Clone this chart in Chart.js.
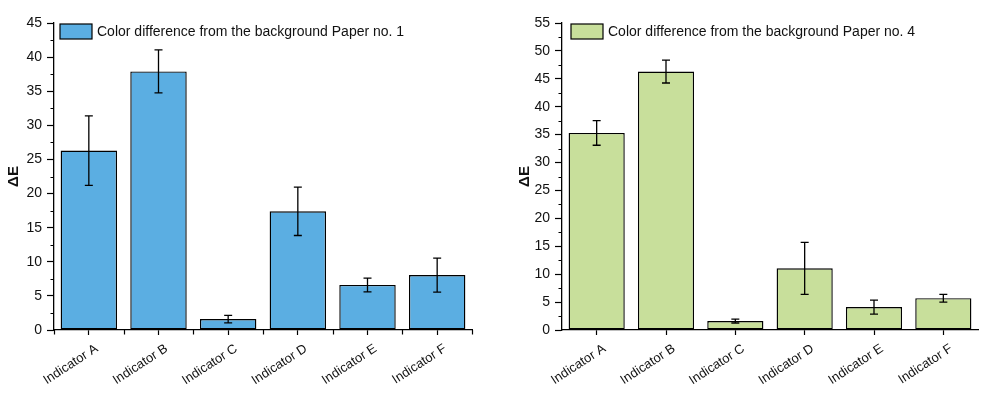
<!DOCTYPE html>
<html>
<head>
<meta charset="utf-8">
<script src="https://cdn.jsdelivr.net/npm/chart.js@4"></script>
<style>
  html, body { margin: 0; padding: 0; background: #fff; }
  #wrap { position: relative; width: 997px; height: 394px; }
  .panel { position: absolute; top: 0; height: 394px; }
  #panel-left { left: 0; width: 495px; }
  #panel-right { left: 495px; width: 502px; }
</style>
</head>
<body>
<div id="wrap">
  <div class="panel" id="panel-left"><canvas id="chart-paper1"></canvas></div>
  <div class="panel" id="panel-right"><canvas id="chart-paper4"></canvas></div>
</div>
<script>
const categories = ["Indicator A", "Indicator B", "Indicator C", "Indicator D", "Indicator E", "Indicator F"];

const paper1Values = [26.3, 37.9, 1.6, 17.4, 6.6, 8.05];
const paper1Errors = [5.1, 3.15, 0.55, 3.55, 1.0, 2.5];
const paper1YTicks = [0, 5, 10, 15, 20, 25, 30, 35, 40, 45];

const paper4Values = [35.3, 46.3, 1.6, 11.05, 4.1, 5.7];
const paper4Errors = [2.2, 2.05, 0.35, 4.65, 1.25, 0.7];
const paper4YTicks = [0, 5, 10, 15, 20, 25, 30, 35, 40, 45, 50, 55];

Chart.defaults.font.family = '"Liberation Sans", Arial, sans-serif';
Chart.defaults.font.size = 14;
Chart.defaults.color = "#111";

// error bars drawn from dataset.errors through the y scale
const errorBarsPlugin = {
  id: "errorBars",
  afterDatasetsDraw(chart, args, opts) {
    const { ctx } = chart;
    const y = chart.scales.y;
    chart.data.datasets.forEach((dataset, di) => {
      if (!dataset.errors) return;
      const meta = chart.getDatasetMeta(di);
      const half = opts.capWidth / 2;
      ctx.save();
      ctx.strokeStyle = "#000";
      ctx.lineWidth = 1.3;
      ctx.beginPath();
      meta.data.forEach((bar, i) => {
        const top = y.getPixelForValue(dataset.data[i] + dataset.errors[i]);
        const bottom = y.getPixelForValue(dataset.data[i] - dataset.errors[i]);
        ctx.moveTo(bar.x, top); ctx.lineTo(bar.x, bottom);
        ctx.moveTo(bar.x - half, top); ctx.lineTo(bar.x + half, top);
        ctx.moveTo(bar.x - half, bottom); ctx.lineTo(bar.x + half, bottom);
      });
      ctx.stroke();
      ctx.restore();
    });
  },
};

// short ticks between the labelled ones
const minorTicksPlugin = {
  id: "minorTicks",
  afterDraw(chart, args, opts) {
    const { ctx } = chart;
    const { x, y } = chart.scales;
    ctx.save();
    ctx.strokeStyle = "#000";
    ctx.lineWidth = 1.2;
    ctx.beginPath();
    y.ticks.forEach((tick) => {
      const v = tick.value + opts.yStep / 2;
      if (v > y.max) return;
      const py = Math.round(y.getPixelForValue(v)) + 0.5;
      ctx.moveTo(x.left, py);
      ctx.lineTo(x.left - opts.length, py);
    });
    if (opts.xBoundaries) {
      for (let i = 0; i <= categories.length; i++) {
        const px = Math.round(x.getPixelForValue(i - 0.5)) + 0.5;
        ctx.moveTo(px, y.bottom);
        ctx.lineTo(px, y.bottom + opts.length + 1);
      }
    }
    ctx.stroke();
    ctx.restore();
  },
};

// legend inside the plot, top left, Origin style
const insideLegendPlugin = {
  id: "insideLegend",
  afterDraw(chart, args, opts) {
    const { ctx, chartArea } = chart;
    const dataset = chart.data.datasets[0];
    const bx = chartArea.left + opts.offsetX;
    const by = chartArea.top + opts.offsetY;
    ctx.save();
    ctx.fillStyle = dataset.backgroundColor;
    ctx.fillRect(bx, by, opts.boxWidth, opts.boxHeight);
    ctx.strokeStyle = "#000";
    ctx.lineWidth = 1.2;
    ctx.strokeRect(bx, by, opts.boxWidth, opts.boxHeight);
    ctx.fillStyle = "#111";
    ctx.font = `14px ${Chart.defaults.font.family}`;
    ctx.textBaseline = "middle";
    ctx.textAlign = "left";
    ctx.fillText(dataset.label, bx + opts.boxWidth + 5, by + opts.boxHeight / 2 + 0.5);
    ctx.restore();
  },
};

function buildChart(canvasId, { label, values, errors, yTicks, color, layout, axisWidth, titlePad, legendOffsetX, xBoundaries }) {
  const canvas = document.getElementById(canvasId);
  return new Chart(canvas, {
    type: "bar",
    data: {
      labels: categories,
      datasets: [{
        label,
        data: values,
        errors,
        backgroundColor: color,
        borderColor: "#000",
        borderWidth: 1.4,
        borderSkipped: false,
        barPercentage: 0.81,
        categoryPercentage: 1,
      }],
    },
    options: {
      responsive: true,
      maintainAspectRatio: false,
      animation: false,
      layout: { padding: layout },
      scales: {
        x: {
          offset: true,
          border: { display: true, color: "#000", width: 1.3 },
          grid: { display: true, drawOnChartArea: false, offset: false, color: "#000", tickLength: 5, tickWidth: 1.2 },
          ticks: { autoSkip: false, minRotation: 33, maxRotation: 33, padding: 6, labelOffset: 8, color: "#111", font: { size: 13 } },
          afterFit: (scale) => { scale.height = 64; },
        },
        y: {
          min: yTicks[0],
          max: yTicks[yTicks.length - 1],
          border: { display: true, color: "#000", width: 1.3 },
          grid: { display: true, drawOnChartArea: false, color: "#000", tickLength: 7, tickWidth: 1.2 },
          ticks: { stepSize: yTicks[1] - yTicks[0], padding: 5, color: "#111" },
          title: { display: true, text: "ΔE", font: { size: 15, weight: "bold" }, color: "#111", padding: { top: titlePad, bottom: 0 } },
          afterFit: (scale) => { scale.width = axisWidth; },
        },
      },
      plugins: {
        legend: { display: false },
        tooltip: { enabled: false },
        errorBars: { capWidth: 8 },
        minorTicks: { yStep: yTicks[1] - yTicks[0], length: 3.5, xBoundaries },
        insideLegend: { offsetX: legendOffsetX, offsetY: 1, boxWidth: 32, boxHeight: 15 },
      },
    },
    plugins: [errorBarsPlugin, minorTicksPlugin, insideLegendPlugin],
  });
}

buildChart("chart-paper1", {
  label: "Color difference from the background Paper no. 1",
  values: paper1Values,
  errors: paper1Errors,
  yTicks: paper1YTicks,
  color: "#5BAEE2",
  layout: { left: 0, top: 23, right: 23, bottom: 0 },
  axisWidth: 54,
  titlePad: 5,
  legendOffsetX: 6,
  xBoundaries: true,
});

buildChart("chart-paper4", {
  label: "Color difference from the background Paper no. 4",
  values: paper4Values,
  errors: paper4Errors,
  yTicks: paper4YTicks,
  color: "#C8DF9B",
  layout: { left: 0, top: 23, right: 19, bottom: 0 },
  axisWidth: 67,
  titlePad: 21,
  legendOffsetX: 9,
  xBoundaries: false,
});
</script>
</body>
</html>
